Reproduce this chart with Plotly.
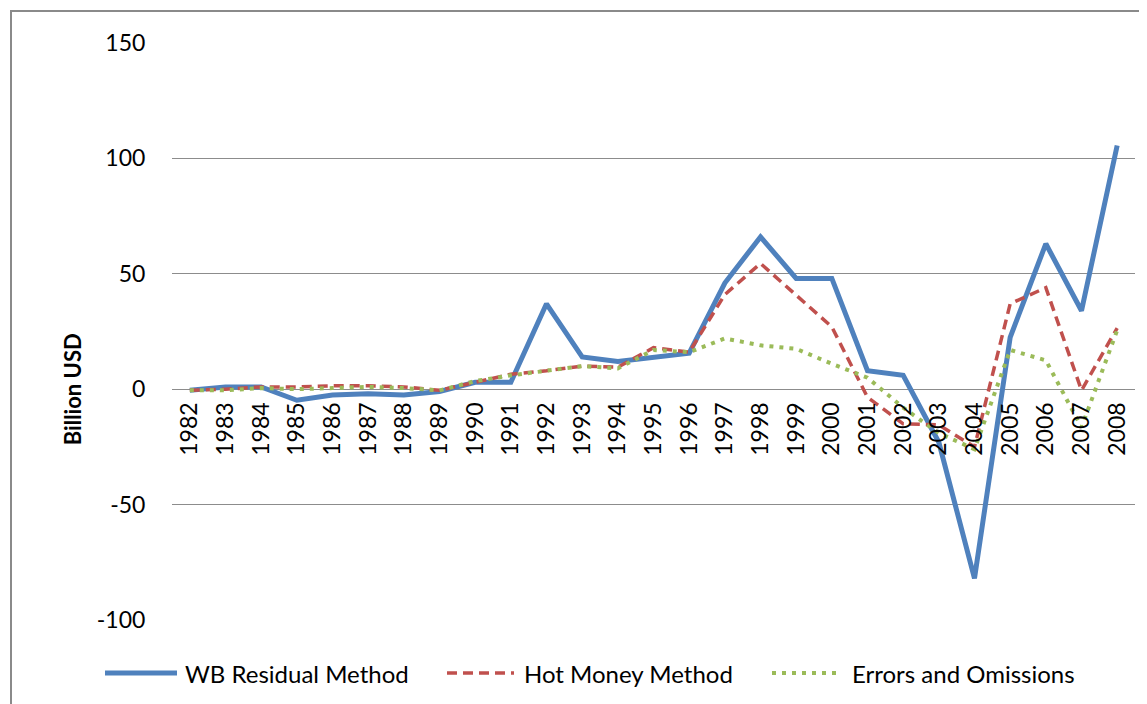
import plotly.graph_objects as go

years = [str(y) for y in range(1982, 2009)]
wb_residual = [-0.5, 1, 1, -4.8, -2.5, -2, -2.5, -1, 3, 3, 37, 14, 12, 14, 15.6, 46, 66, 48, 48, 8, 6, -23, -82, 22.5, 63, 34, 105.6]
hot_money = [-0.5, 0, 1, 1, 1.5, 1.5, 1, -0.5, 3, 6.5, 8, 10, 9.5, 18, 16, 41, 54.5, 41, 27, -3.5, -15, -15.5, -25, 37, 44, -0.5, 26.5]
errors_omissions = [-0.5, -0.5, 0.5, 0, 0.5, 1, 0.5, -0.5, 3.5, 6, 8, 10, 9, 17, 16, 22, 19, 17.5, 11, 5, -8, -19, -26, 17, 12.5, -16.5, 25.5]
y_ticks = [-100, -50, 0, 50, 100, 150]
y_tick_text = ["-100", "-50", "0", "50", "100", "150"]
series_names = ["WB Residual Method", "Hot Money Method", "Errors and Omissions"]

FONT = "Lato"
BLUE, RED, GREEN = "#4F81BD", "#C0504D", "#9BBB59"
styles = [dict(color=BLUE, width=5, dash="solid"),
          dict(color=RED, width=3.5, dash="10px,6px"),
          dict(color=GREEN, width=4, dash="4px,6px")]

fig = go.Figure()
for name, vals, st in zip(series_names, [wb_residual, hot_money, errors_omissions], styles):
    fig.add_trace(go.Scatter(x=years, y=vals, mode="lines", name=name, line=st, showlegend=False))

# the page body adds an 8px offset; compensate so the screen layout matches
OFF = 8
W, H = 1147, 704
L, R, T, B = 172 - OFF, W + OFF - 1135, 43 - OFF, H + OFF - 620
pw, ph = W - L - R, H - T - B
zero_pos = (0 - (-100)) / 250.0

def px_x(p):
    return (p - OFF - L) / pw

def px_y(p):
    return (H - B - (p - OFF)) / ph

legend_y = px_y(673)
legend_items = [(105, 177, 183), (447, 514, 522), (772, 840, 850)]
shapes = [dict(type="rect", xref="paper", yref="paper",
               x0=px_x(11), x1=px_x(1145), y0=px_y(712), y1=px_y(11),
               line=dict(color="#8a8a8a", width=2), fillcolor="rgba(0,0,0,0)", layer="below")]
annotations = [dict(text="<b>Billion USD</b>", xref="paper", yref="y", x=px_x(72), y=0,
                    textangle=-90, showarrow=False, font=dict(family=FONT, size=22),
                    xanchor="center", yanchor="middle")]
for (x0, x1, xt), name, st in zip(legend_items, series_names, styles):
    shapes.append(dict(type="line", xref="paper", yref="paper", x0=px_x(x0), x1=px_x(x1),
                       y0=legend_y, y1=legend_y,
                       line=dict(color=st["color"], width=st["width"], dash=st["dash"])))
    annotations.append(dict(text=name, xref="paper", yref="paper", x=px_x(xt), y=legend_y,
                            xanchor="left", yanchor="middle", showarrow=False,
                            font=dict(family=FONT, size=24, color="#000000")))

fig.update_layout(
    width=W, height=H,
    margin=dict(l=L, r=R, t=T, b=B),
    paper_bgcolor="white", plot_bgcolor="white",
    font=dict(family=FONT, size=22, color="#000000"),
    showlegend=False,
    xaxis=dict(type="category", range=[-0.5, 26.5], anchor="free", position=zero_pos,
               showgrid=False, showline=False, zeroline=False, tickangle=-90,
               ticks="outside", ticklen=3, tickcolor="rgba(0,0,0,0)", automargin=False,
               tickfont=dict(family=FONT, size=23)),
    yaxis=dict(range=[-100, 150], tickvals=y_ticks, ticktext=y_tick_text, showgrid=True,
               gridcolor="#8c8c8c", gridwidth=1, zeroline=False, showline=False,
               ticks="outside", ticklen=21, tickcolor="rgba(0,0,0,0)", automargin=False,
               tickfont=dict(family=FONT, size=23)),
    shapes=shapes,
    annotations=annotations,
)

fig.write_html("out.html")
